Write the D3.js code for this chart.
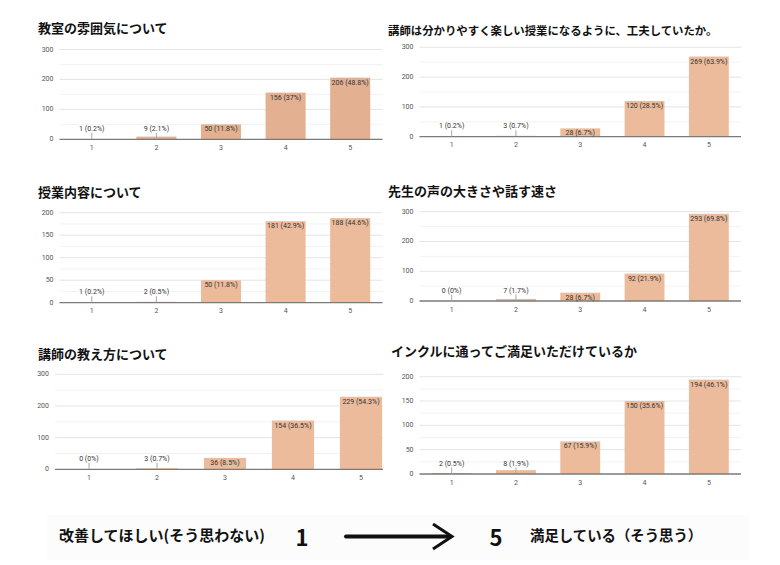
<!doctype html>
<html lang="ja">
<head>
<meta charset="utf-8">
<title>アンケート結果</title>
<script src="https://cdn.jsdelivr.net/npm/d3@7"></script>
<style>
  html, body { margin: 0; padding: 0; background: #fff; }
  svg { display: block; }
  .title { font-family: "Noto Sans CJK JP", sans-serif; font-weight: 700; fill: #111; }
  .tick-label { font-family: Roboto, "Liberation Sans", sans-serif; font-size: 7px; fill: #555; }
  .bar-label { font-family: Roboto, "Liberation Sans", sans-serif; font-size: 7px; fill: #333; }
  .foot { font-family: "Noto Sans CJK JP", sans-serif; font-weight: 700; fill: #111; }
</style>
</head>
<body>
<div id="chart"></div>
<script>
// answer categories (1 = 改善してほしい ... 5 = 満足している)
var categories = ["1", "2", "3", "4", "5"];

var titles = [
  "教室の雰囲気について",
  "講師は分かりやすく楽しい授業になるように、工夫していたか。",
  "授業内容について",
  "先生の声の大きさや話す速さ",
  "講師の教え方について",
  "インクルに通ってご満足いただけているか"
];

// counts per answer
var atmosphere   = [1, 9, 50, 156, 206];
var clarity      = [1, 3, 28, 120, 269];
var content      = [1, 2, 50, 181, 188];
var voice        = [0, 7, 28, 92, 293];
var teaching     = [0, 3, 36, 154, 229];
var satisfaction = [2, 8, 67, 150, 194];

// percentages as printed on the bars
var atmospherePct   = ["0.2%", "2.1%", "11.8%", "37%", "48.8%"];
var clarityPct      = ["0.2%", "0.7%", "6.7%", "28.5%", "63.9%"];
var contentPct      = ["0.2%", "0.5%", "11.8%", "42.9%", "44.6%"];
var voicePct        = ["0%", "1.7%", "6.7%", "21.9%", "69.8%"];
var teachingPct     = ["0%", "0.7%", "8.5%", "36.5%", "54.3%"];
var satisfactionPct = ["0.5%", "1.9%", "15.9%", "35.6%", "46.1%"];

// y axis tick labels
var ticks300 = [0, 100, 200, 300];
var ticks200 = [0, 50, 100, 150, 200];

var footLeft = "改善してほしい(そう思わない)";
var footRight = "満足している（そう思う）";

var svg = d3.select("#chart").append("svg").attr("width", 780).attr("height", 565);

// where each small chart sits on the page
var panels = [
  { vals: atmosphere,   pct: atmospherePct,   ticks: ticks300, tx: 38,  ty: 27.5, fs: 13,   x0: 59.5, x1: 382.5, top: 49.5,  base: 139.3, clip: null, color: "#e3b192" },
  { vals: clarity,      pct: clarityPct,      ticks: ticks300, tx: 388, ty: 29.5, fs: 11.4, x0: 419.5, x1: 741,  top: 47.3,  base: 136.7, clip: null, color: "#ebbb9b" },
  { vals: content,      pct: contentPct,      ticks: ticks200, tx: 38,  ty: 191.7, fs: 13,  x0: 59.5, x1: 382.5, top: 212.7, base: 302.7, clip: null, color: "#ebbb9b" },
  { vals: voice,        pct: voicePct,        ticks: ticks300, tx: 388, ty: 190,  fs: 13,   x0: 419.5, x1: 741,  top: 211.7, base: 301,   clip: null, color: "#ebbb9b" },
  { vals: teaching,     pct: teachingPct,     ticks: ticks300, tx: 38,  ty: 353,  fs: 13,   x0: 55,   x1: 395,   top: 374.3, base: 469.3, clip: 383,  color: "#ebbb9b" },
  { vals: satisfaction, pct: satisfactionPct, ticks: ticks200, tx: 391, ty: 350.7, fs: 13,  x0: 419.5, x1: 741,  top: 376.7, base: 474,   clip: null, color: "#ebbb9b" }
];

panels.forEach(function(p, i) {
  var g = svg.append("g");

  if (p.clip) {
    svg.append("clipPath").attr("id", "clip" + i)
      .append("rect").attr("x", 0).attr("y", 0).attr("width", p.clip).attr("height", 565);
    g.attr("clip-path", "url(#clip" + i + ")");
  }

  svg.append("text")
    .attr("class", "title")
    .attr("x", p.tx)
    .attr("y", p.ty)
    .attr("dominant-baseline", "central")
    .style("font-size", p.fs + "px")
    .text(titles[i]);

  var maxV = d3.max(p.ticks);
  var y = d3.scaleLinear().domain([0, maxV]).range([p.base, p.top]);
  var x = d3.scaleBand().domain(categories).range([p.x0, p.x1])
    .paddingInner(0.38).paddingOuter(0.19);

  // minor gridlines halfway between the labelled ones
  var step = p.ticks[1] - p.ticks[0];
  var minor = d3.range(step / 2, maxV, step);
  g.selectAll(".minor").data(minor).enter().append("line")
    .attr("x1", p.x0).attr("x2", p.x1)
    .attr("y1", function(d) { return y(d); })
    .attr("y2", function(d) { return y(d); })
    .attr("stroke", "#f2f2f2").attr("stroke-width", 1);

  g.selectAll(".major").data(p.ticks.slice(1)).enter().append("line")
    .attr("x1", p.x0).attr("x2", p.x1)
    .attr("y1", function(d) { return y(d); })
    .attr("y2", function(d) { return y(d); })
    .attr("stroke", "#e4e4e4").attr("stroke-width", 1);

  svg.selectAll(".yl" + i).data(p.ticks).enter().append("text")
    .attr("class", "tick-label")
    .attr("x", p.x0 - 6)
    .attr("y", function(d) { return y(d); })
    .attr("text-anchor", "end")
    .attr("dominant-baseline", "central")
    .text(function(d) { return d; });

  var bars = categories.map(function(c, j) { return { cat: c, v: p.vals[j], pct: p.pct[j] }; });

  g.selectAll(".bar").data(bars).enter().append("rect")
    .attr("x", function(d) { return x(d.cat); })
    .attr("y", function(d) { return y(d.v); })
    .attr("width", x.bandwidth())
    .attr("height", function(d) { return p.base - y(d.v); })
    .attr("fill", p.color);

  // baseline
  g.append("line")
    .attr("x1", p.x0).attr("x2", p.x1)
    .attr("y1", p.base).attr("y2", p.base)
    .attr("stroke", "#7a7a7a").attr("stroke-width", 1.3);

  // labels: inside the bar when it fits, otherwise above with a little leader line
  bars.forEach(function(d) {
    var cx = x(d.cat) + x.bandwidth() / 2;
    var h = p.base - y(d.v);
    var ly;
    if (h >= 7) {
      ly = y(d.v) + 5;
    } else {
      ly = p.base - 10.5;
      g.append("line")
        .attr("x1", cx).attr("x2", cx)
        .attr("y1", p.base - 0.5).attr("y2", ly + 4)
        .attr("stroke", "#aaa").attr("stroke-width", 1);
    }
    g.append("text")
      .attr("class", "bar-label")
      .attr("x", cx)
      .attr("y", ly)
      .attr("text-anchor", "middle")
      .attr("dominant-baseline", "central")
      .text(d.v + " (" + d.pct + ")");
  });

  g.selectAll(".xl").data(categories).enter().append("text")
    .attr("class", "tick-label")
    .attr("x", function(d) { return x(d) + x.bandwidth() / 2; })
    .attr("y", p.base + 8.5)
    .attr("text-anchor", "middle")
    .attr("dominant-baseline", "central")
    .text(function(d) { return d; });
});

// footer: 1 ----> 5 scale explanation
svg.append("rect")
  .attr("x", 47).attr("y", 515).attr("width", 703).attr("height", 45)
  .attr("fill", "#fcfcfc");

svg.append("text").attr("class", "foot")
  .attr("x", 59).attr("y", 534.5)
  .attr("dominant-baseline", "central")
  .style("font-size", "15px")
  .text(footLeft);

svg.append("text").attr("class", "foot")
  .attr("x", 302).attr("y", 536)
  .attr("text-anchor", "middle")
  .attr("dominant-baseline", "central")
  .style("font-size", "22px")
  .text(categories[0]);

svg.append("text").attr("class", "foot")
  .attr("x", 496).attr("y", 536)
  .attr("text-anchor", "middle")
  .attr("dominant-baseline", "central")
  .style("font-size", "22px")
  .text(categories[categories.length - 1]);

svg.append("line")
  .attr("x1", 346).attr("x2", 450)
  .attr("y1", 536.5).attr("y2", 536.5)
  .attr("stroke", "#111").attr("stroke-width", 4)
  .attr("stroke-linecap", "round");

svg.append("polyline")
  .attr("points", "433,524 452,536.5 433,549")
  .attr("fill", "none")
  .attr("stroke", "#111").attr("stroke-width", 3);

svg.append("text").attr("class", "foot")
  .attr("x", 530).attr("y", 534.5)
  .attr("dominant-baseline", "central")
  .style("font-size", "14.4px")
  .text(footRight);
</script>
</body>
</html>
